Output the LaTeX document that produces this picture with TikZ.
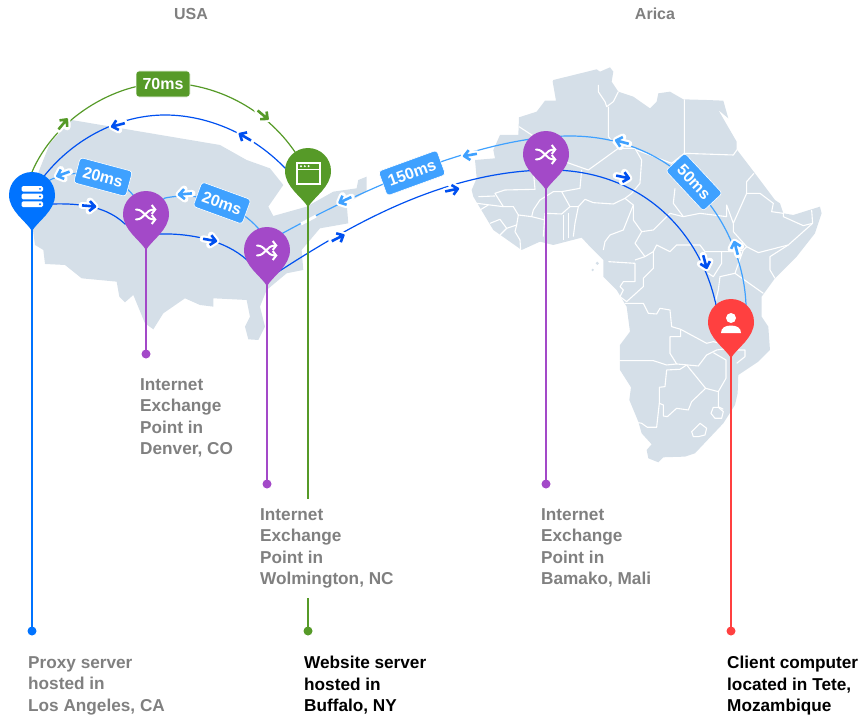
\documentclass[tikz,border=0pt]{standalone}
\usepackage{fontspec}
\setmainfont{Liberation Sans}
\usetikzlibrary{arrows.meta}
\definecolor{proxyblue}{HTML}{0073FF}
\definecolor{hubpurple}{HTML}{A349C8}
\definecolor{sitegreen}{HTML}{569A28}
\definecolor{clientred}{HTML}{FF4040}
\definecolor{mapgrey}{HTML}{D5DFE8}
\definecolor{linkblue}{HTML}{0050F0}
\definecolor{replyblue}{HTML}{3FA1FF}
\definecolor{captiongrey}{HTML}{808080}
\tikzset{
  border/.style={white, line width=1.1pt, line join=round},
  stem/.style={line width=2pt},
  link/.style={line width=1.2pt},
  delay/.style={rounded corners=3pt, text=white, font=\fontsize{16}{18}\bfseries\selectfont, inner sep=0pt, minimum height=26pt, draw=white, line width=.6pt},
  caption/.style={anchor=north west, align=left, inner sep=0pt, font=\fontsize{17.2}{21.5}\bfseries\selectfont},
  pics/pinbody/.style={code={
    \fill[#1] (0,36) .. controls (-6,26) and (-23,16) .. (-23,0)
      .. controls (-23,-12.7) and (-12.7,-23) .. (0,-23)
      .. controls (12.7,-23) and (23,-12.7) .. (23,0)
      .. controls (23,16) and (6,26) .. (0,36) -- cycle;
  }},
  pics/flowtip/.style={code={
    \draw[white, line width=7pt, line cap=round, line join=round] (-7,0) -- (6,0) (0.5,-5) -- (6,0) -- (0.5,5);
    \draw[#1, line width=2.6pt, line join=round] (-7,0) -- (6,0) (0.5,-5) -- (6,0) -- (0.5,5);
  }},
  pics/servericon/.style={code={
    \foreach \y in {-9,-1.4,6.4}{
      \fill[white, rounded corners=1.5pt] (-10.5,\y) rectangle (11,\y+5.7);
      \fill[proxyblue] (8,\y+2.85) circle (1.1pt);
    }
  }},
  pics/windowicon/.style={code={
    \draw[white, line width=1.2pt] (-11,-8) rectangle (12,13);
    \draw[white, line width=1pt] (-11,-1.5) -- (12,-1.5);
    \foreach \x in {-7,-3.2,0.6}{
      \fill[white] (\x,-4.8) circle (1.1pt);
    }
  }},
  pics/shuffleicon/.style={code={
    \draw[white, line width=2pt, line cap=round, -{Straight Barb[length=3.5pt,width=9pt]}] (-10,-4.5) .. controls (-1,-4.5) and (-1,5.5) .. (10.5,5.5);
    \draw[white, line width=2pt, line cap=round, -{Straight Barb[length=3.5pt,width=9pt]}] (-10,5.5) .. controls (-1,5.5) and (-1,-4.5) .. (10.5,-4.5);
  }},
  pics/usericon/.style={code={
    \fill[white] (0,-4) circle (5pt);
    \fill[white] (-10,11) .. controls (-10,6) and (-6,3.5) .. (0,3.5) .. controls (6,3.5) and (10,6) .. (10,11) -- cycle;
  }}
}

\begin{document}
\begin{tikzpicture}[x=1pt,y=-1pt]
\useasboundingbox (0,0) rectangle (867,725);

% USA map
\begin{scope}[shift={(0,60)},x=0.3333pt,y=-0.3333pt]
  \fill[mapgrey] (215,180) -- (660,255) -- (740,300) -- (810,325) -- (850,375) -- (805,440) -- (820,468)
    -- (920,440) -- (1000,395) -- (1070,385) -- (1075,360) -- (1100,350) -- (1100,395) -- (1040,430)
    -- (1045,490) -- (960,505) -- (905,570) -- (910,630) -- (860,640) -- (800,690) -- (780,740)
    -- (795,800) -- (775,840) -- (745,838) -- (735,800) -- (750,770) -- (740,720) -- (640,715)
    -- (640,740) -- (600,735) -- (555,715) -- (490,760) -- (460,808) -- (435,790) -- (400,705)
    -- (375,727) -- (358,710) -- (350,665) -- (245,655) -- (195,615) -- (135,612) -- (130,570)
    -- (105,555) -- (95,480) -- (110,350) -- (150,250) -- cycle;
\end{scope}

% Africa map
\begin{scope}[shift={(450,60)},x=0.3333pt,y=-0.3333pt]
  \fill[mapgrey] (310,60) -- (440,28) -- (450,35) -- (480,22) -- (490,35) -- (485,65) -- (505,95) -- (550,110)
    -- (600,145) -- (620,125) -- (625,100) -- (660,95) -- (700,118) -- (770,120) -- (820,122) -- (835,175)
    -- (805,150) -- (860,245) -- (860,268) -- (915,340) -- (975,420) -- (990,430) -- (1000,460) -- (1030,465)
    -- (1110,440) -- (1115,460) -- (1095,520) -- (1040,590) -- (975,655) -- (935,710) -- (935,770)
    -- (955,800) -- (960,870) -- (925,905) -- (865,945) -- (863,1000) -- (855,1035) -- (820,1090)
    -- (735,1180) -- (705,1190) -- (640,1192) -- (625,1207) -- (595,1195) -- (590,1170) -- (605,1153)
    -- (575,1120) -- (565,1085) -- (538,1020) -- (543,982) -- (510,930)
    -- (510,855) -- (540,815) -- (530,740) -- (500,690) -- (460,650) -- (460,600) -- (420,560) -- (395,533)
    -- (310,555) -- (270,545) -- (215,570) -- (130,510) -- (70,410) -- (65,390) -- (80,355) -- (75,300)
    -- (135,295) -- (130,270) -- (150,225) -- (205,225) -- (207,172) -- (260,155) -- (285,122) -- (318,122)
    -- (308,65) -- cycle;
  \fill[mapgrey] (462,580) circle (8) (442,610) circle (5) (428,630) circle (4);

  % Draw country borders
  \draw[border] (207,200) -- (250,228) -- (330,300) -- (415,330) -- (505,265) -- (555,265) -- (575,300) -- (570,370)
    -- (545,400) -- (525,415) -- (490,432) -- (430,428) -- (405,418) -- (385,440) -- (360,440) -- (335,395)
    -- (310,395) -- (270,420) -- (250,450) -- (245,470) -- (205,465) -- (190,440) -- (160,440) -- (135,400)
    -- (165,390) -- (255,388) -- (250,330);
  \draw[border] (335,395) -- (390,385) -- (395,330);
  \draw[border] (475,140) -- (475,230) -- (505,265);
  \draw[border] (445,75) -- (445,95) -- (465,125) -- (470,140) -- (490,125) -- (505,95);
  \draw[border] (703,118) -- (703,280) -- (850,285) -- (862,268);
  \draw[border] (560,270) -- (665,310) -- (703,280);
  \draw[border] (675,385) -- (670,430) -- (700,470);
  \draw[border] (525,415) -- (550,435) -- (520,510) -- (480,525) -- (465,545) -- (460,570);
  \draw[border] (550,435) -- (550,480) -- (575,515) -- (610,510) -- (660,460) -- (700,470) -- (750,460)
    -- (830,470) -- (830,435) -- (850,490) -- (890,400) -- (890,365) -- (912,340);
  \draw[border] (890,400) -- (930,400) -- (970,430) -- (965,455) -- (1000,460) -- (1000,470) -- (1060,497)
    -- (1088,490) -- (1085,450);
  \draw[border] (850,490) -- (850,515) -- (890,560) -- (925,578) -- (1015,555) -- (1088,490);
  \draw[border] (575,515) -- (555,550) -- (585,590) -- (610,575) -- (620,555) -- (660,575) -- (680,555)
    -- (750,555) -- (765,575) -- (850,575) -- (880,570) -- (890,560);
  \draw[border] (1015,555) -- (960,590) -- (960,630) -- (975,655);
  \draw[border] (880,570) -- (855,640) -- (940,700);
  \draw[border] (855,640) -- (810,650) -- (805,690) -- (795,730);
  \draw[border] (815,575) -- (815,610) -- (790,650) -- (775,640);
  \draw[border] (475,605) -- (555,610) -- (555,665) -- (520,665) -- (510,680) -- (520,690) -- (510,710)
    -- (530,725) -- (580,680) -- (580,655) -- (610,625) -- (610,575);
  \draw[border] (585,590) -- (555,600);
  \draw[border] (525,730) -- (580,730) -- (595,760) -- (620,762) -- (630,745) -- (660,750) -- (665,800)
    -- (692,808) -- (692,830) -- (660,830) -- (660,880) -- (680,912) -- (650,915) -- (610,902) -- (508,902);
  \draw[border] (680,912) -- (745,918) -- (770,885) -- (800,870) -- (835,865);
  \draw[border] (692,808) -- (770,850) -- (790,845) -- (810,850);
  \draw[border] (710,915) -- (767,985) -- (805,995) -- (828,955) -- (828,900) -- (790,878);
  \draw[border] (710,915) -- (690,928) -- (650,930) -- (645,980) -- (628,982) -- (628,1030) -- (620,1102)
    -- (592,1102) -- (575,1090) -- (565,1088);
  \draw[border] (628,1030) -- (640,1035) -- (640,1068) -- (652,1070) -- (680,1045) -- (715,1050) -- (725,1025) -- (767,985);
  \draw[border] (805,995) -- (805,1040) -- (820,1048);
  \draw[border] (860,870) -- (885,870) -- (885,890) -- (860,910);
  \draw[border] (340,465) -- (340,540);
  \draw[border] (355,460) -- (355,535);
  \draw[border] (370,530) -- (375,490) -- (385,440);
  \draw[border] (280,530) -- (285,460) -- (335,462) -- (360,440);
  \draw[border] (245,470) -- (285,480);
  \draw[border] (205,465) -- (200,495) -- (170,505) -- (150,525);
  \draw[border] (200,495) -- (195,515) -- (210,540) -- (212,570);
  \draw[border] (120,490) -- (150,478) -- (170,505);
  \draw[border] (85,410) -- (135,408);
  \draw[border] (80,430) -- (160,440);
  \draw[border] (90,450) -- (115,435);
  \draw[border] (790,1042) -- (805,1042) -- (820,1055) -- (815,1075) -- (795,1075) -- (783,1060) -- cycle;
  \draw[border] (725,1115) -- (750,1090) -- (770,1105) -- (765,1125) -- (745,1130) -- (730,1130) -- cycle;
\end{scope}

% Define pin centers
\coordinate (ProxyPin) at (32,195);
\coordinate (DenverPin) at (146,214);
\coordinate (WolmingtonPin) at (267,250);
\coordinate (SitePin) at (308,171);
\coordinate (BamakoPin) at (546,154);
\coordinate (ClientPin) at (731,322);

% Define stem ends
\coordinate (ProxyDot) at (32,631);
\coordinate (DenverDot) at (146,354);
\coordinate (WolmingtonDot) at (267,484);
\coordinate (SiteDot) at (308,631);
\coordinate (BamakoDot) at (546,484);
\coordinate (ClientDot) at (731,631);

% Draw route arcs
\draw[link, sitegreen] (ProxyPin) -- (32,172) .. controls (55,118) and (115,83) .. (165,83)
  .. controls (215,83) and (265,108) .. (295,152) -- (SitePin);
\draw[link, linkblue] (SitePin) -- (285,168) .. controls (250,132) and (205,115) .. (165,115)
  .. controls (120,115) and (75,138) .. (45,175) -- (ProxyPin);
\draw[link, linkblue] (ProxyPin) -- (52,204) .. controls (85,203) and (108,208) .. (125,224) -- (DenverPin);
\draw[link, linkblue] (DenverPin) -- (158,234) .. controls (190,233) and (225,240) .. (247,260) -- (WolmingtonPin);
\draw[link, linkblue] (WolmingtonPin) -- (278,272) .. controls (340,232) and (440,170) .. (550,170)
  .. controls (640,170) and (700,230) .. (716,305) -- (ClientPin);
\draw[link, replyblue] (ClientPin) -- (746,305) .. controls (743,225) and (680,136) .. (570,136)
  .. controls (490,136) and (380,180) .. (283,233) -- (WolmingtonPin);
\draw[link, replyblue] (WolmingtonPin) -- (258,228) .. controls (240,208) and (205,190) .. (165,198) -- (DenverPin);
\draw[link, replyblue] (DenverPin) -- (133,195) .. controls (120,178) and (80,165) .. (50,180) -- (ProxyPin);
\draw[white, line width=3pt] (301,224) -- (316,216);

% Draw flow arrows
\pic[rotate=50] at (63,124) {flowtip=sitegreen};
\pic[rotate=-40] at (263,115) {flowtip=sitegreen};
\pic[rotate=195] at (118,125) {flowtip=linkblue};
\pic[rotate=150] at (245,137) {flowtip=linkblue};
\pic[rotate=200] at (63,174) {flowtip=replyblue};
\pic[rotate=185] at (185,194) {flowtip=replyblue};
\pic[rotate=205] at (345,200) {flowtip=replyblue};
\pic[rotate=-5] at (89,206) {flowtip=linkblue};
\pic[rotate=-10] at (210,240) {flowtip=linkblue};
\pic[rotate=27] at (338,238) {flowtip=linkblue};
\pic[rotate=12] at (452,190) {flowtip=linkblue};
\pic[rotate=-12] at (623,177) {flowtip=linkblue};
\pic[rotate=-75] at (705,262) {flowtip=linkblue};
\pic[rotate=105] at (736,248) {flowtip=replyblue};
\pic[rotate=165] at (622,142) {flowtip=replyblue};
\pic[rotate=190] at (470,155) {flowtip=replyblue};

% Draw stems
\draw[stem, proxyblue] (ProxyPin) -- (ProxyDot);
\draw[stem, hubpurple] (DenverPin) -- (DenverDot);
\draw[stem, hubpurple] (WolmingtonPin) -- (WolmingtonDot);
\draw[stem, sitegreen] (SitePin) -- (SiteDot);
\draw[stem, hubpurple] (BamakoPin) -- (BamakoDot);
\draw[stem, clientred] (ClientPin) -- (ClientDot);
\fill[proxyblue] (ProxyDot) circle (4.5pt);
\fill[hubpurple] (DenverDot) circle (4.5pt) (WolmingtonDot) circle (4.5pt) (BamakoDot) circle (4.5pt);
\fill[sitegreen] (SiteDot) circle (4.5pt);
\fill[clientred] (ClientDot) circle (4.5pt);

% Draw delay labels
\node[delay, fill=sitegreen, minimum width=54pt] (DelaySite) at (163,84) {70ms};
\node[delay, fill=replyblue, minimum width=54pt, rotate=-15] (DelayProxy) at (103,177) {20ms};
\node[delay, fill=replyblue, minimum width=52pt, rotate=-20] (DelayDenver) at (222,203) {20ms};
\node[delay, fill=replyblue, minimum width=62pt, rotate=20] (DelayAtlantic) at (412,173) {150ms};
\node[delay, fill=replyblue, minimum width=55pt, rotate=-47] (DelayClient) at (694,182) {50ms};

% Draw pins
\pic at (ProxyPin) {pinbody=proxyblue};
\pic at (DenverPin) {pinbody=hubpurple};
\pic at (WolmingtonPin) {pinbody=hubpurple};
\pic at (SitePin) {pinbody=sitegreen};
\pic at (BamakoPin) {pinbody=hubpurple};
\pic at (ClientPin) {pinbody=clientred};
\pic at (ProxyPin) {servericon};
\pic at (DenverPin) {shuffleicon};
\pic at (WolmingtonPin) {shuffleicon};
\pic at (SitePin) {windowicon};
\pic at (BamakoPin) {shuffleicon};
\pic at (ClientPin) {usericon};

% Draw captions
\node[font=\fontsize{16}{18}\bfseries\selectfont, text=captiongrey, inner sep=0pt] (UsaTitle) at (191,14) {USA};
\node[font=\fontsize{16}{18}\bfseries\selectfont, text=captiongrey, inner sep=0pt] (AfricaTitle) at (655,14) {Arica};
\node[caption, text=captiongrey] (ProxyText) at (28,656) {Proxy server\\hosted in\\Los Angeles, CA};
\node[caption, text=captiongrey] (DenverText) at (140,378) {Internet\\Exchange\\Point in\\Denver, CO};
\node[caption, text=captiongrey, fill=white, inner ysep=9.5pt, inner xsep=2pt] (WolmingtonText) at (258,498.5) {Internet\\Exchange\\Point in\\Wolmington, NC};
\node[caption, text=captiongrey] (BamakoText) at (541,508) {Internet\\Exchange\\Point in\\Bamako, Mali};
\node[caption, text=black] (SiteText) at (304,656) {Website server\\hosted in\\Buffalo, NY};
\node[caption, text=black] (ClientText) at (727,656) {Client computer\\located in Tete,\\Mozambique};
\end{tikzpicture}
\end{document}
